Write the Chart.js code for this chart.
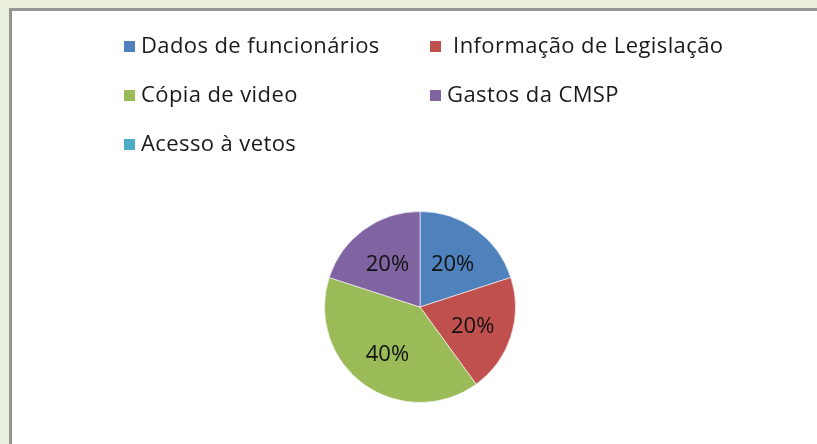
<!DOCTYPE html>
<html>
<head>
<meta charset="utf-8">
<script src="https://cdn.jsdelivr.net/npm/chart.js"></script>
<style>
  body { margin: 0; background: #EBF1DE; width: 817px; height: 444px; overflow: hidden; position: relative; }
  #moldura { position: absolute; left: 9px; top: 8px; width: 820px; height: 450px; background: #fff;
             border-top: 3px solid #959595; border-left: 3px solid #959595; }
  #pieChart { position: absolute; left: 0; top: 0; }
</style>
</head>
<body>
<div id="moldura"></div>
<canvas id="pieChart" width="817" height="444"></canvas>
<script>
var categorias = [
  "Dados de funcionários",
  " Informação de Legislação",
  "Cópia de video",
  "Gastos da CMSP",
  "Acesso à vetos"
];
var valores = [20, 20, 40, 20, 0];
var cores = ["#4F81BD", "#C0504D", "#9BBB59", "#8064A2", "#4BACC6"];

var fonte = '"Open Sans", "Noto Sans", sans-serif';

// legenda em duas colunas, como no Excel
var legendaGrade = {
  id: 'legendaGrade',
  afterDraw: function(chart) {
    var ctx = chart.ctx;
    var colX = [124, 430];
    var linhaY = [47, 96, 145];
    ctx.save();
    ctx.font = '22px ' + fonte;
    ctx.letterSpacing = '0.4px';
    ctx.textBaseline = 'middle';
    ctx.textAlign = 'left';
    chart.data.labels.forEach(function(label, i) {
      var x = colX[i % 2];
      var y = linhaY[Math.floor(i / 2)];
      ctx.fillStyle = chart.data.datasets[0].backgroundColor[i];
      ctx.fillRect(x, y - 6, 11, 11);
      ctx.fillStyle = '#1a1a1a';
      ctx.fillText(label, x + 17, y);
    });
    ctx.restore();
  }
};

// porcentagens dentro das fatias
var rotulos = {
  id: 'rotulos',
  afterDatasetsDraw: function(chart) {
    var ctx = chart.ctx;
    var meta = chart.getDatasetMeta(0);
    var dados = chart.data.datasets[0].data;
    var total = dados.reduce(function(a, b) { return a + b; }, 0);
    ctx.save();
    ctx.font = '22px ' + fonte;
    ctx.fillStyle = '#111';
    ctx.textAlign = 'center';
    ctx.textBaseline = 'middle';
    meta.data.forEach(function(arc, i) {
      if (!dados[i]) return;
      var p = arc.getProps(['x', 'y', 'startAngle', 'endAngle', 'outerRadius'], true);
      var meio = (p.startAngle + p.endAngle) / 2;
      var r = p.outerRadius * 0.58;
      ctx.fillText(Math.round(dados[i] / total * 100) + '%', p.x + Math.cos(meio) * r, p.y + Math.sin(meio) * r + 3);
    });
    ctx.restore();
  }
};

var pie = document.getElementById("pieChart").getContext('2d');
var myChart = new Chart(pie, {
  type: 'pie',
  data: {
    labels: categorias,
    datasets: [
      {
        data: valores,
        backgroundColor: cores,
        borderColor: 'rgba(255,255,255,0.6)',
        borderWidth: 1
      }
    ]
  },
  options: {
    responsive: false,
    animation: false,
    layout: {
      padding: { top: 211, bottom: 41, left: 23, right: 0 }
    },
    plugins: {
      legend: { display: false },
      tooltip: { enabled: false },
      title: { display: false }
    },
    events: []
  },
  plugins: [legendaGrade, rotulos]
});
</script>
</body>
</html>
